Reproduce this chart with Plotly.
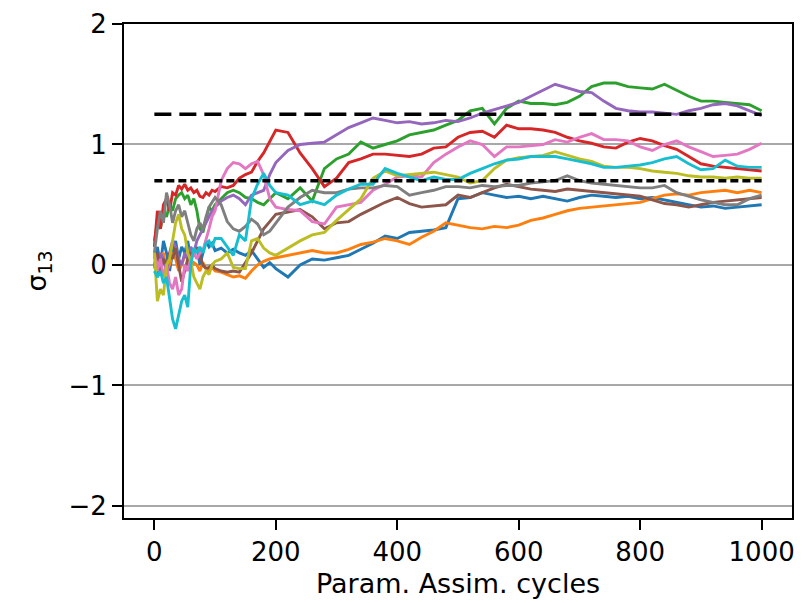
import plotly.graph_objects as go

cycles = [0, 5, 10, 15, 20, 25, 30, 35, 40, 45, 50, 55, 60, 65, 70, 75, 80, 85, 90, 95, 100,
          110, 120, 130, 140, 150, 160, 170, 180, 190, 200,
          220, 240, 260, 280, 300, 320, 340, 360, 380, 400, 420, 440, 460, 480, 500,
          520, 540, 560, 580, 600, 620, 640, 660, 680, 700, 720, 740, 760, 780, 800,
          820, 840, 860, 880, 900, 920, 940, 960, 980, 1000]

run_blue = [0.05, 0.15, 0.0, 0.2, 0.1, -0.05, 0.1, 0.2, 0.05, 0.15, 0.1, 0.2, 0.05, 0.1, 0.15, 0.0, 0.1, 0.2, 0.15, 0.18, 0.12,
            0.14, 0.1, 0.13, 0.1, 0.08, 0.12, 0.05, -0.02, 0.02, -0.03,
            -0.1, 0.0, 0.05, 0.04, 0.06, 0.08, 0.13, 0.18, 0.24, 0.22, 0.27, 0.28, 0.29, 0.31, 0.55,
            0.56, 0.6, 0.58, 0.56, 0.57, 0.55, 0.57, 0.55, 0.53, 0.56, 0.58, 0.57, 0.56, 0.57, 0.55,
            0.56, 0.54, 0.52, 0.5, 0.48, 0.49, 0.47, 0.48, 0.49, 0.5]
run_orange = [0.0, -0.1, 0.05, 0.1, -0.05, 0.0, 0.1, 0.05, -0.05, 0.0, 0.08, 0.05, -0.02, 0.02, 0.0, -0.05, 0.02, -0.03, -0.05, -0.02, -0.05,
              -0.06, -0.08, -0.1, -0.09, -0.11, -0.05, 0.0, 0.03, 0.05, 0.06,
              0.08, 0.1, 0.12, 0.1, 0.1, 0.13, 0.17, 0.19, 0.22, 0.2, 0.17, 0.23, 0.28, 0.35, 0.33,
              0.31, 0.3, 0.32, 0.31, 0.33, 0.37, 0.39, 0.42, 0.45, 0.47, 0.48, 0.49, 0.5, 0.51, 0.52,
              0.55, 0.58, 0.59, 0.58, 0.6, 0.61, 0.62, 0.6, 0.62, 0.6]
run_green = [0.2, 0.35, 0.3, 0.45, 0.4, 0.5, 0.45, 0.55, 0.58, 0.6, 0.55, 0.58, 0.5, 0.55, 0.45, 0.3, 0.27, 0.38, 0.48, 0.45, 0.5,
             0.55, 0.6, 0.62, 0.6, 0.56, 0.55, 0.52, 0.5, 0.55, 0.6,
             0.55, 0.64, 0.53, 0.8, 0.88, 0.92, 1.02, 0.97, 1.0, 1.03, 1.08, 1.1, 1.12, 1.16, 1.2,
             1.28, 1.3, 1.17, 1.3, 1.36, 1.34, 1.34, 1.33, 1.35, 1.4, 1.48, 1.51, 1.51, 1.48, 1.47,
             1.46, 1.5, 1.45, 1.4, 1.36, 1.36, 1.35, 1.34, 1.33, 1.28]
run_red = [0.15, 0.45, 0.3, 0.5, 0.55, 0.45, 0.6, 0.58, 0.66, 0.63, 0.67, 0.62, 0.64, 0.6, 0.62, 0.57, 0.56, 0.6, 0.58, 0.62, 0.61,
           0.65, 0.64, 0.66, 0.72, 0.75, 0.77, 0.86, 0.93, 1.02, 1.12,
           1.1, 0.93, 0.8, 0.65, 0.72, 0.85, 0.88, 0.92, 0.92, 0.91, 0.9, 0.92, 0.97, 0.98, 1.06,
           1.1, 1.11, 1.06, 1.16, 1.13, 1.13, 1.12, 1.1, 1.06, 1.03, 1.01, 0.98, 0.97, 1.02, 1.05,
           1.03, 0.99, 0.96, 0.9, 0.84, 0.82, 0.81, 0.8, 0.79, 0.78]
run_purple = [0.0, -0.1, 0.1, 0.05, -0.05, 0.1, 0.2, 0.15, 0.05, 0.0, 0.1, 0.05, 0.15, 0.1, 0.2, 0.25, 0.3, 0.35, 0.4, 0.45, 0.48,
              0.53, 0.56, 0.58, 0.55, 0.5, 0.58, 0.6, 0.62, 0.75, 0.85,
              0.95, 1.0, 1.01, 1.02, 1.08, 1.14, 1.18, 1.22, 1.2, 1.18, 1.19, 1.17, 1.18, 1.2, 1.19,
              1.22, 1.26, 1.29, 1.32, 1.35, 1.4, 1.45, 1.5, 1.47, 1.44, 1.43, 1.36, 1.3, 1.28, 1.27,
              1.27, 1.26, 1.25, 1.28, 1.3, 1.33, 1.34, 1.32, 1.28, 1.24]
run_brown = [0.0, 0.1, -0.05, 0.05, 0.0, 0.1, 0.05, 0.14, 0.0, -0.14, -0.05, 0.05, 0.1, 0.1, 0.14, 0.08, 0.0, -0.03, -0.02, 0.0, -0.03,
             -0.05, -0.06, -0.05, -0.06, 0.02, 0.1, 0.2, 0.3, 0.36, 0.42,
             0.44, 0.46, 0.4, 0.3, 0.35, 0.36, 0.42, 0.47, 0.52, 0.56, 0.51, 0.48, 0.49, 0.5, 0.58,
             0.56, 0.6, 0.64, 0.67, 0.65, 0.63, 0.62, 0.61, 0.63, 0.62, 0.61, 0.6, 0.59, 0.58, 0.57,
             0.54, 0.51, 0.5, 0.48, 0.5, 0.52, 0.53, 0.54, 0.55, 0.56]
run_pink = [0.1, -0.05, 0.05, -0.1, 0.0, -0.15, -0.2, -0.1, -0.25, -0.2, 0.0, -0.05, 0.05, 0.1, 0.05, 0.1, 0.12, 0.2, 0.3, 0.4, 0.45,
            0.7, 0.8, 0.85, 0.84, 0.8, 0.84, 0.86, 0.75, 0.55, 0.48,
            0.46, 0.45, 0.36, 0.34, 0.48, 0.5, 0.52, 0.62, 0.67, 0.73, 0.74, 0.73, 0.85, 0.92, 0.98,
            1.03, 1.0, 0.9, 0.98, 0.98, 0.99, 1.0, 1.04, 1.02, 1.06, 1.09, 1.04, 1.04, 1.03, 0.98,
            0.95, 1.0, 1.03, 0.98, 0.94, 0.9, 0.91, 0.92, 0.96, 1.01]
run_gray = [0.1, 0.3, 0.45, 0.35, 0.6, 0.5, 0.35, 0.45, 0.5, 0.4, 0.45, 0.35, 0.25, 0.2, 0.3, 0.35, 0.3, 0.4, 0.48, 0.52, 0.56,
            0.5, 0.36, 0.3, 0.28, 0.32, 0.38, 0.34, 0.25, 0.28, 0.35,
            0.48, 0.56, 0.62, 0.6, 0.6, 0.63, 0.64, 0.64, 0.66, 0.65, 0.58, 0.6, 0.62, 0.65, 0.65,
            0.64, 0.66, 0.65, 0.66, 0.66, 0.68, 0.69, 0.7, 0.74, 0.7, 0.68, 0.67, 0.66, 0.65, 0.64,
            0.64, 0.66, 0.6, 0.57, 0.54, 0.52, 0.5, 0.5, 0.55, 0.58]
run_olive = [0.1, -0.3, -0.2, -0.25, 0.0, 0.05, 0.2, 0.35, 0.42, 0.3, 0.25, 0.1, 0.03, -0.1, -0.15, -0.2, -0.1, -0.05, -0.08, 0.0, 0.03,
             0.05, 0.1, -0.02, -0.03, -0.03, 0.2, 0.22, 0.14, 0.1, 0.08,
             0.14, 0.2, 0.25, 0.27, 0.37, 0.46, 0.55, 0.72, 0.78, 0.74, 0.75, 0.76, 0.77, 0.75, 0.73,
             0.68, 0.7, 0.8, 0.87, 0.89, 0.9, 0.91, 0.94, 0.91, 0.88, 0.86, 0.82, 0.81, 0.81, 0.8,
             0.78, 0.77, 0.76, 0.74, 0.73, 0.73, 0.72, 0.73, 0.72, 0.72]
run_cyan = [-0.05, -0.1, -0.05, -0.15, -0.1, -0.3, -0.45, -0.53, -0.4, -0.3, -0.25, -0.35, 0.0, 0.14, 0.1, 0.15, 0.1, 0.18, 0.2, 0.15, 0.22,
            0.22, 0.15, 0.08, 0.25, 0.2, 0.55, 0.67, 0.76, 0.66, 0.6,
            0.58, 0.5, 0.53, 0.5, 0.58, 0.63, 0.67, 0.67, 0.8, 0.76, 0.73, 0.7, 0.73, 0.71, 0.71,
            0.76, 0.8, 0.84, 0.87, 0.88, 0.9, 0.9, 0.9, 0.88, 0.86, 0.84, 0.81, 0.81, 0.82, 0.83,
            0.85, 0.88, 0.9, 0.84, 0.79, 0.8, 0.87, 0.82, 0.81, 0.81]

runs = [run_blue, run_orange, run_green, run_red, run_purple,
        run_brown, run_pink, run_gray, run_olive, run_cyan]
colors = ["#1f77b4", "#ff7f0e", "#2ca02c", "#d62728", "#9467bd",
          "#8c564b", "#e377c2", "#7f7f7f", "#bcbd22", "#17becf"]

ref_x = [0, 1000]
upper_ref = [1.25, 1.25]
lower_ref = [0.7, 0.7]

x_ticks = [0, 200, 400, 600, 800, 1000]
y_ticks = [-2, -1, 0, 1, 2]

fig = go.Figure()
for vals, c in zip(runs, colors):
    fig.add_trace(go.Scatter(x=cycles, y=vals, mode="lines",
                             line=dict(color=c, width=2.9), showlegend=False))
fig.add_trace(go.Scatter(x=ref_x, y=upper_ref, mode="lines",
                         line=dict(color="black", width=3.5, dash="17px,8px"), showlegend=False))
fig.add_trace(go.Scatter(x=ref_x, y=lower_ref, mode="lines",
                         line=dict(color="black", width=3.5, dash="8px,4px"), showlegend=False))

font = "DejaVu Sans"
fig.update_layout(
    width=804, height=603,
    margin=dict(l=124, r=9, t=22, b=85),
    paper_bgcolor="white", plot_bgcolor="white",
    font=dict(family=font, size=26, color="black"),
    showlegend=False,
)
fig.update_xaxes(
    range=[-50, 1050], tickvals=x_ticks, ticks="outside", ticklen=10, tickwidth=2,
    tickcolor="black", showline=True, linecolor="black", linewidth=2, mirror=True,
    showgrid=False, zeroline=False,
    title=dict(text="Param. Assim. cycles", font=dict(size=27), standoff=8),
)
fig.update_yaxes(
    range=[-2.1, 2.0], tickvals=y_ticks, ticktext=["\u22122", "\u22121", "0", "1", "2"],
    ticks="outside", ticklen=10, tickwidth=2, tickcolor="black",
    showline=True, linecolor="black", linewidth=2, mirror=True,
    showgrid=True, gridcolor="#a8a8a8", gridwidth=1.5, zeroline=False,
    title=dict(text="\u03c3<sub>13</sub>", font=dict(size=27), standoff=14),
)

fig.write_html("out.html")
